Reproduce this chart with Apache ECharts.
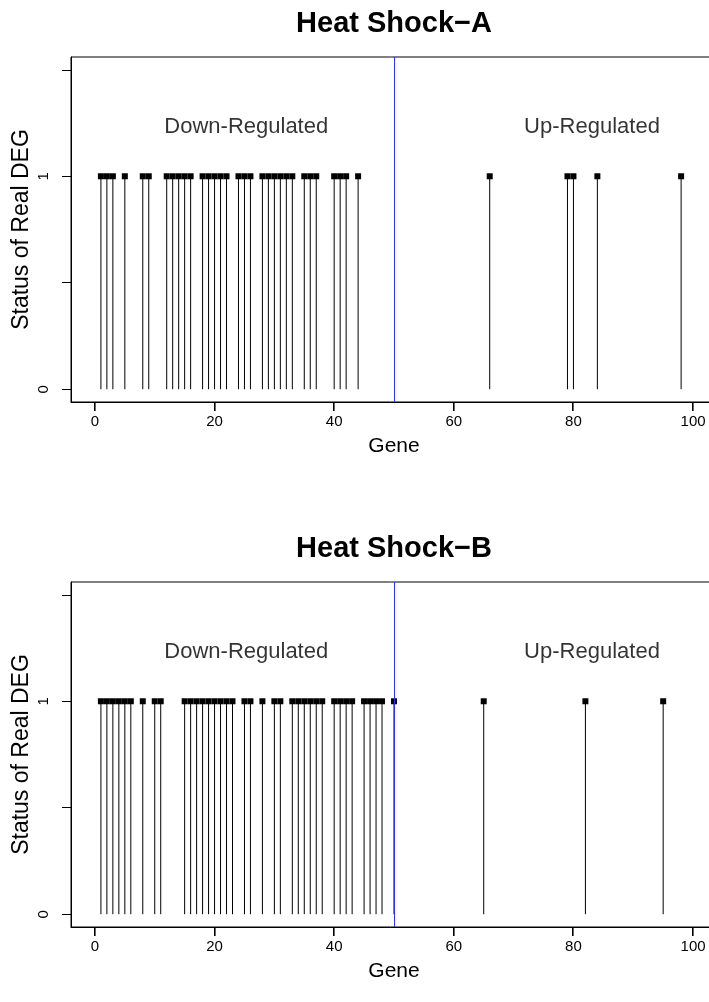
<!DOCTYPE html>
<html><head><meta charset="utf-8">
<script src="https://cdn.jsdelivr.net/npm/echarts@6/dist/echarts.min.js"></script>
<style>html,body{margin:0;padding:0;background:#fff;overflow:hidden}#c{width:709px;height:1002px}</style>
</head><body><div id="c"></div>
<script>
// ---- data ----
const genesA = [1,2,3,5,8,9,12,13,14,15,16,18,19,20,21,22,24,25,26,28,29,30,31,32,33,35,36,37,40,41,42,44,66,79,80,84,98];
const genesB = [1,2,3,4,5,6,8,10,11,15,16,17,18,19,20,21,22,23,25,26,28,30,31,33,34,35,36,37,38,40,41,42,43,45,46,47,48,50,65,82,95];
const statusValue = 1;
const cutoff = 50;
const xTicks = [0,20,40,60,80,100];
const yTicks = [0,0.5,1,1.5];
const yTickLabels = [0,1];
const panelTitles = ['Heat Shock\u2212A','Heat Shock\u2212B'];
const regionLabels = ['Down-Regulated','Up-Regulated'];
const regionLabelX = [25.3, 83.1];
const regionLabelY = 1.23;
const xName = 'Gene';
const yName = 'Status of Real DEG';

// ---- layout ----
const FONT = "'Liberation Sans', Arial, Helvetica, sans-serif";
const panelTops = [57, 582];
const plotH = 345, plotLeft = 71, plotW = 646;
const plotCenterX = plotLeft + plotW / 2;
const X_MIN = -4, X_MAX = 104, Y_MIN = -0.06, Y_MAX = 1.56;

const chart = echarts.init(document.getElementById('c'), null, {renderer:'canvas'});

function stemSeries(genes, idx){
  return {
    type:'custom', xAxisIndex:idx, yAxisIndex:idx, z:3,
    data: genes.map(g => [g, statusValue]),
    renderItem(params, api){
      const p0 = api.coord([api.value(0), 0]);
      const p1 = api.coord([api.value(0), api.value(1)]);
      return {type:'group', children:[
        {type:'line', shape:{x1:p0[0],y1:p0[1],x2:p1[0],y2:p1[1]}, style:{stroke:'#000', lineWidth:1}},
        {type:'rect', shape:{x:p1[0]-3,y:p1[1]-3,width:6,height:6}, style:{fill:'#000'}}
      ]};
    },
    markLine:{
      silent:true, symbol:['none','none'], z:5,
      label:{show:false},
      lineStyle:{color:'#3030ff', width:1, type:'solid'},
      data:[{xAxis:cutoff}]
    }
  };
}
function labelSeries(idx){
  return {
    type:'scatter', xAxisIndex:idx, yAxisIndex:idx, symbolSize:0, silent:true,
    data: regionLabels.map((t,i)=>({value:[regionLabelX[i], regionLabelY], name:t})),
    label:{show:true, position:'inside', formatter:p=>p.name, color:'#000', textBorderWidth:0, fontSize:22, fontFamily:FONT}
  };
}

const grids = panelTops.map(t => ({left:plotLeft, width:plotW, top:t, height:plotH, show:true,
  outerBoundsMode:'none', containLabel:false,
  borderColor:'#000', borderWidth:1, backgroundColor:'transparent'}));

const xAxes = panelTops.map((t,i)=>({
  type:'value', gridIndex:i, min:X_MIN, max:X_MAX, position:'bottom',
  splitLine:{show:false}, axisLine:{show:true, onZero:false, lineStyle:{color:'#000', width:1}},
  axisTick:{show:false},
  axisLabel:{show:true, customValues:xTicks, color:'#000', fontSize:15, fontFamily:FONT, margin:12}
}));
const yAxes = panelTops.map((t,i)=>({
  type:'value', gridIndex:i, min:Y_MIN, max:Y_MAX, position:'left',
  splitLine:{show:false}, axisLine:{show:true, onZero:false, lineStyle:{color:'#000', width:1}},
  axisTick:{show:true, customValues:yTicks, length:9, lineStyle:{color:'#000', width:1}},
  axisLabel:{show:true, customValues:yTickLabels, rotate:90, color:'#000', fontSize:15, fontFamily:FONT, margin:20}
}));

const graphics = [];
panelTops.forEach((t,i)=>{
  graphics.push({id:'title'+i, type:'text', style:{text:panelTitles[i], x:plotCenterX, y:t-33, textAlign:'center', textVerticalAlign:'middle', font:'bold 29px '+FONT, fill:'#000'}});
  graphics.push({id:'xname'+i, type:'text', style:{text:xName, x:plotCenterX, y:t+plotH+44, textAlign:'center', textVerticalAlign:'middle', font:'21px '+FONT, fill:'#000'}});
  graphics.push({id:'yname'+i, type:'text', rotation:Math.PI/2, x:22, y:t+plotH/2, style:{text:yName, x:0, y:0, textAlign:'center', textVerticalAlign:'middle', font:'23px '+FONT, fill:'#000'}});
});

chart.setOption({
  animation:false,
  backgroundColor:'#fff',
  grid:grids, xAxis:xAxes, yAxis:yAxes,
  series:[stemSeries(genesA,0), stemSeries(genesB,1), labelSeries(0), labelSeries(1)],
  graphic:{elements:graphics}
});

// x-axis tick marks below the box, positioned through the library's axis scale
const tickEls = [];
panelTops.forEach((t,i)=>{
  xTicks.forEach((v,k)=>{
    const p = chart.convertToPixel({xAxisIndex:i, yAxisIndex:i}, [v, Y_MIN]);
    tickEls.push({id:'xtick_'+i+'_'+k, type:'rect', shape:{x:Math.round(p[0]) - 1, y:Math.round(p[1]), width:1.6, height:9}, style:{fill:'#000'}});
  });
});
chart.setOption({graphic:{elements:tickEls}});
</script>
</body></html>
